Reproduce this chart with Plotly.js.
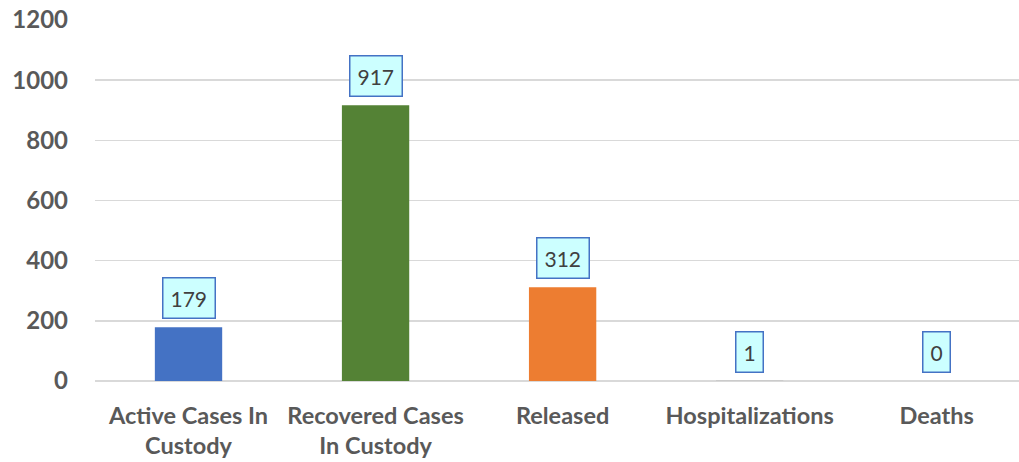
<!DOCTYPE html>
<html>
<head>
<meta charset="utf-8">
<script src="https://cdn.plot.ly/plotly-3.0.1.min.js"></script>
<style>html,body{margin:0;padding:0;background:#fff;}#chart{width:1019px;height:462px;}</style>
</head>
<body>
<div id="chart"></div>
<script>
var categories = ["Active Cases In<br>Custody", "Recovered Cases<br>In Custody", "Released", "Hospitalizations", "Deaths"];
var values = [179, 917, 312, 1, 0];
var barColors = ["#4472C4", "#548235", "#ED7D31", "#A5A5A5", "#FFC000"];
var yTicks = [0, 200, 400, 600, 800, 1000, 1200];

var trace = {
  type: "bar",
  x: categories,
  y: values,
  marker: {color: barColors},
  width: 0.36,
  hoverinfo: "none"
};

var annotations = values.map(function(v, i) {
  return {
    x: categories[i], y: v, xref: "x", yref: "y",
    text: String(v), showarrow: false,
    yanchor: "bottom", yshift: 8,
    font: {family: "Lato, sans-serif", size: 21, color: "#404040"},
    bgcolor: "#CCFFFF", bordercolor: "#4472C4", borderwidth: 1.5, borderpad: 7
  };
});

var layout = {
  width: 1019, height: 462,
  margin: {l: 95, r: 0, t: 20, b: 81},
  paper_bgcolor: "#fff", plot_bgcolor: "#fff",
  showlegend: false,
  xaxis: {
    range: [-0.5, 4.44],
    tickfont: {family: "Lato, sans-serif", size: 23.5, color: "#595959", weight: "bold"},
    showgrid: false, zeroline: false, showline: false,
    ticks: "", ticklabelstandoff: 18, fixedrange: true
  },
  yaxis: {
    range: [0, 1200],
    tickvals: yTicks,
    ticktext: yTicks.map(String),
    tickfont: {family: "Lato, sans-serif", size: 24, color: "#595959", weight: "bold"},
    showgrid: true, gridcolor: "#D9D9D9", gridwidth: 1.5,
    zeroline: true, zerolinecolor: "#D9D9D9", zerolinewidth: 1.5,
    showline: false, ticks: "", ticklabelstandoff: 26, fixedrange: true
  },
  annotations: annotations
};

Plotly.newPlot("chart", [trace], layout, {displayModeBar: false, staticPlot: true});
</script>
</body>
</html>
